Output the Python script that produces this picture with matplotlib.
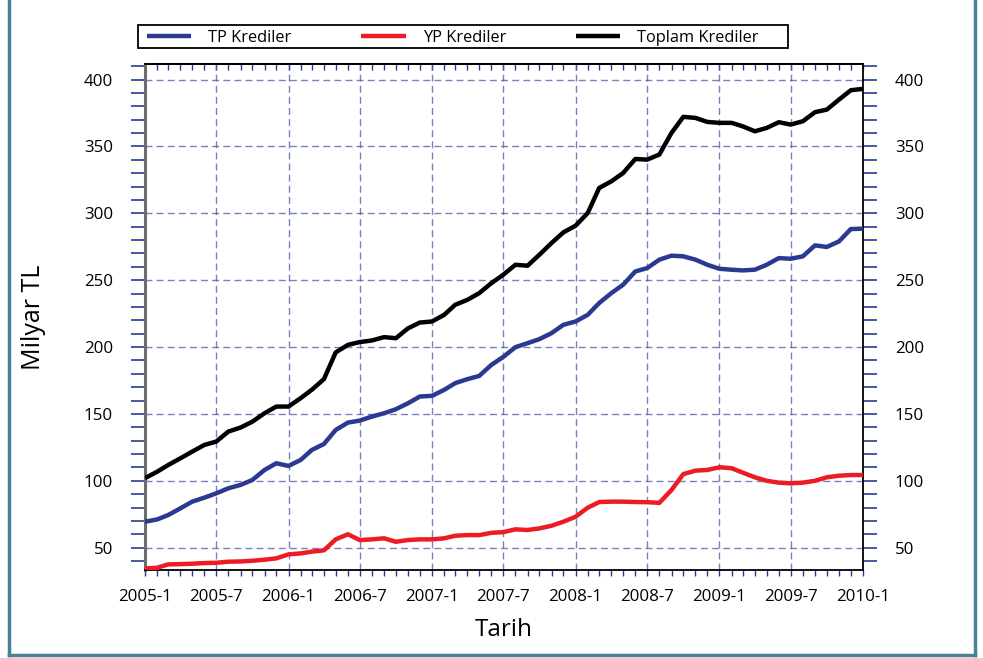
import matplotlib
matplotlib.use("Agg")
import matplotlib.pyplot as plt
import matplotlib.dates as mdates
from matplotlib.lines import Line2D
from matplotlib.patches import Rectangle
from matplotlib.ticker import MultipleLocator, NullFormatter
import pandas as pd

# monthly data, 2005-1 .. 2010-1 (billion TL)
months = pd.date_range("2005-01-01", "2010-01-01", freq="MS")

tp_krediler = [
    69.4, 71.1, 74.4, 79.4, 84.4, 87.4, 90.6, 94.4, 96.9, 100.6, 108.1, 113.1,
    111.1, 115.6, 123.0, 127.5, 138.0, 143.5, 145.0, 148.0, 150.5, 153.5, 158.0, 163.0,
    163.5, 168.0, 173.0, 176.0, 178.4, 186.7, 192.6, 199.9, 202.9, 205.9, 210.4, 216.6,
    219.1, 224.1, 232.9, 240.3, 246.6, 256.5, 259.0, 265.3, 268.3, 267.8, 265.3, 261.5,
    258.5, 257.8, 257.3, 257.8, 261.5, 266.5, 266.0, 267.8, 276.0, 274.8, 279.0, 288.2,
    288.5,
]
yp_krediler = [
    34.5, 35.0, 37.5, 37.7, 38.0, 38.5, 38.7, 39.5, 39.7, 40.2, 41.0, 42.0,
    45.0, 45.7, 47.0, 48.0, 56.2, 60.0, 55.7, 56.2, 57.0, 54.4, 55.7, 56.2,
    56.2, 57.0, 58.9, 59.4, 59.4, 61.1, 61.6, 63.7, 63.2, 64.4, 66.4, 69.4,
    73.1, 79.9, 84.1, 84.4, 84.4, 84.1, 84.0, 83.5, 93.1, 105.0, 107.6, 108.1,
    110.1, 109.4, 106.1, 102.6, 100.0, 98.6, 98.1, 98.6, 100.0, 102.6, 103.8, 104.3,
    104.3,
]
toplam_krediler = [
    102.0, 106.8, 111.8, 116.8, 121.8, 126.8, 129.3, 136.8, 139.8, 144.2, 150.5, 155.5,
    155.5, 161.8, 168.0, 176.0, 196.0, 201.6, 203.7, 204.9, 207.4, 206.6, 214.0, 218.3,
    219.1, 224.1, 231.6, 235.3, 240.3, 247.8, 254.0, 261.5, 260.8, 269.0, 277.8, 285.7,
    290.7, 300.2, 318.9, 323.9, 330.1, 340.6, 340.1, 343.9, 360.1, 372.1, 371.3, 368.3,
    367.6, 367.6, 365.0, 361.3, 363.8, 368.1, 366.3, 368.8, 375.6, 377.5, 385.0, 392.0,
    393.0,
]

series_labels = ["TP Krediler", "YP Krediler", "Toplam Krediler"]
series_colors = ["#2b3990", "#ed1c24", "#000000"]

plt.rcParams["font.family"] = ["Open Sans", "DejaVu Sans"]

fig = plt.figure(figsize=(9.83, 6.58), dpi=100)
W, H = 983, 658
ax = fig.add_axes([145 / W, 1 - 570 / H, (863 - 145) / W, (570 - 64) / H])

for vals, lab, col in zip([tp_krediler, yp_krediler, toplam_krediler],
                          series_labels, series_colors):
    ax.plot(months, vals, color=col, lw=3.2, label=lab,
            solid_joinstyle="round", solid_capstyle="butt", zorder=3)

ax.set_xlim(pd.Timestamp("2005-01-01"), pd.Timestamp("2010-01-01"))
ax.set_ylim(33.3, 411.6)

tick_col = "#2b3990"
grid_col = "#4a58a6"

# x axis: labels every 6 months, small monthly ticks (out at bottom)
ax.xaxis.set_major_locator(mdates.MonthLocator(bymonth=[1, 7]))
ax.xaxis.set_minor_locator(mdates.MonthLocator())
ax.xaxis.set_major_formatter(
    plt.FuncFormatter(lambda v, p: f"{mdates.num2date(v).year}-{mdates.num2date(v).month}"))
ax.tick_params(axis="x", which="both", bottom=True, top=False, direction="out",
               length=4, width=1, color=tick_col, labelsize=12.2, pad=10)

# top: monthly ticks pointing inward
top = ax.secondary_xaxis("top")
top.xaxis.set_major_locator(mdates.MonthLocator())
top.xaxis.set_major_formatter(NullFormatter())
top.tick_params(axis="x", direction="in", length=4, width=1, color=tick_col)
top.spines["top"].set_color("black")
top.spines["top"].set_linewidth(1.3)

# y axis: labels both sides, ticks outward
ax.yaxis.set_major_locator(MultipleLocator(50))
ax.yaxis.set_minor_locator(MultipleLocator(10))
ax.tick_params(axis="y", which="both", left=True, right=True, labelleft=True,
               labelright=True, direction="out", length=10, width=1.2,
               color=tick_col, labelsize=12.2)
ax.tick_params(axis="y", which="major", pad=13)

ax.grid(True, which="major", color=grid_col, linestyle=(0, (5, 3)),
        linewidth=1, alpha=0.75)

ax.spines["left"].set_color("#6d6d6d")
ax.spines["left"].set_linewidth(2.2)
for s in ["bottom", "right", "top"]:
    ax.spines[s].set_color("black")
    ax.spines[s].set_linewidth(1.3)

ax.set_xlabel("Tarih", fontsize=17.5, labelpad=9)
ax.set_ylabel("Milyar TL", fontsize=18, labelpad=27)

# legend box drawn separately so entries stay left-packed like the original
fig.legend(loc="center left", ncol=3, frameon=False,
           bbox_to_anchor=(147 / W, 1 - 38 / H),
           borderaxespad=0, fontsize=11.8, handlelength=2.7,
           handletextpad=1.05, columnspacing=4.25, borderpad=0)
fig.add_artist(Rectangle((138 / W, 1 - 48 / H), 650 / W, 23 / H,
                         transform=fig.transFigure, fill=False,
                         edgecolor="black", lw=1.3))

# outer frame
frame_col = "#4b8196"
fig.add_artist(Line2D([9 / W, 9 / W], [1 - 655 / H, 1], transform=fig.transFigure,
                      color=frame_col, lw=2.5))
fig.add_artist(Line2D([975 / W, 975 / W], [1 - 655 / H, 1], transform=fig.transFigure,
                      color=frame_col, lw=2.5))
fig.add_artist(Line2D([9 / W, 975 / W], [1 - 655 / H, 1 - 655 / H],
                      transform=fig.transFigure, color=frame_col, lw=2.5))

fig.savefig("out.png", dpi=100)
